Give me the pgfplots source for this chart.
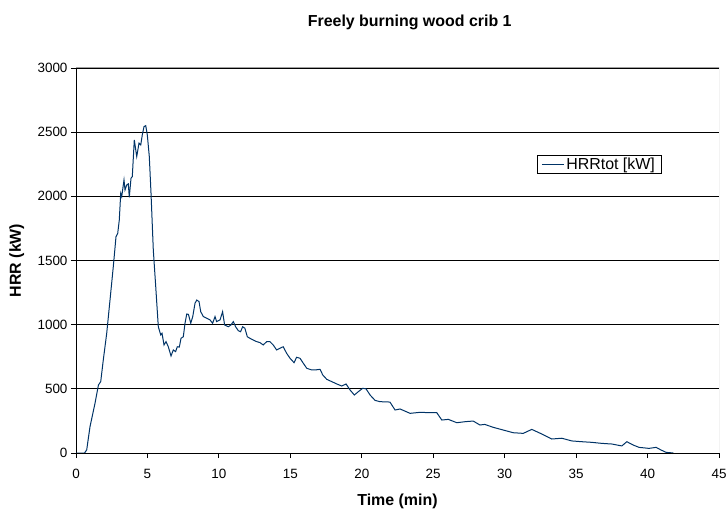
\documentclass[border=0pt]{standalone}
\usepackage{fontspec}
\setmainfont{Liberation Sans}
\usepackage{pgfplots}
\pgfplotsset{compat=1.18}
\definecolor{hrr}{RGB}{0,51,102}
\definecolor{frame}{RGB}{160,160,160}
\begin{document}
\begin{tikzpicture}
\path[use as bounding box] (0,0) rectangle (728bp,511bp);
\begin{axis}[
  at={(76bp,58bp)}, anchor=south west,
  scale only axis, width=643bp, height=385bp,
  xmin=0, xmax=45, ymin=0, ymax=3000,
  xtick={0,5,...,45}, ytick={0,500,...,3000},
  axis x line*=bottom, axis y line*=left,
  axis line style={black, line width=0.8bp, -},
  tick align=outside, major tick length=5bp,
  tick style={black, line width=0.8bp},
  ymajorgrids, grid style={black, line width=0.8bp},
  /pgf/number format/assume math mode=true,
  /pgf/number format/1000 sep={},
  ticklabel style={font=\fontsize{13.5}{16}\selectfont},
  xticklabel style={yshift=-8bp},
  title={Freely burning wood crib 1},
  title style={font=\bfseries\fontsize{16}{19}\selectfont, at={(axis description cs:0.519,1.107)}, anchor=base, yshift=-6bp},
  xlabel={Time (min)},
  xlabel style={font=\bfseries\fontsize{16}{19}\selectfont, at={(axis description cs:0.5,-0.137)}, anchor=base},
  ylabel={HRR (kW)},
  ylabel style={font=\bfseries\fontsize{16}{19}\selectfont, at={(axis description cs:-0.092,0.5)}, anchor=center},
  legend style={at={(rel axis cs:0.717,0.774)}, anchor=north west, draw=black, line width=0.6bp, font=\fontsize{16}{19}\selectfont, inner xsep=4bp, inner ysep=0.5bp, legend cell align=left},
  legend image code/.code={\draw[#1] (0bp,0bp) -- (22bp,0bp);},
]
\draw[frame, line width=1bp] (rel axis cs:0,1) -- (rel axis cs:1,1) -- (rel axis cs:1,0);
\addplot[hrr, line width=1bp] coordinates {
(0,0) (0.6,0) (0.75,25) (0.98,205) (1.33,387) (1.57,530) (1.73,556) (1.91,725)
(2.15,933) (2.38,1192) (2.61,1452) (2.80,1686) (2.92,1712) (3.03,1816) (3.13,2024)
(3.20,1998) (3.36,2128) (3.43,2050) (3.55,2089) (3.66,2097) (3.73,1993) (3.85,2141)
(3.94,2154) (4.08,2440) (4.25,2310) (4.41,2414) (4.53,2400) (4.64,2479) (4.76,2543)
(4.88,2551) (4.99,2479) (5.13,2310) (5.25,2024) (5.41,1582) (5.58,1296) (5.76,984)
(5.93,920) (6.02,933) (6.16,842) (6.30,868) (6.46,828) (6.65,756) (6.81,803)
(6.97,790) (7.09,828) (7.23,825) (7.35,894) (7.51,906) (7.63,1011) (7.75,1083)
(7.87,1080) (8.03,1011) (8.17,1063) (8.33,1167) (8.45,1192) (8.61,1180) (8.73,1101)
(8.91,1063) (9.15,1050) (9.38,1037) (9.56,1011) (9.73,1063) (9.84,1024) (10.08,1037)
(10.26,1101) (10.40,998) (10.66,984) (10.85,998) (11.01,1024) (11.17,984) (11.36,953)
(11.52,945) (11.66,984) (11.82,972) (11.99,906) (12.17,894) (12.41,880) (12.64,868)
(12.88,860) (13.10,842) (13.35,868) (13.57,868) (13.80,842) (14.04,803) (14.27,816)
(14.50,828) (14.74,777) (14.98,738) (15.26,704) (15.44,746) (15.68,738) (15.91,699)
(16.15,660) (16.50,647) (16.73,647) (17.08,652) (17.27,608) (17.55,574) (17.90,556)
(18.25,538) (18.60,522) (18.90,538) (19.18,491) (19.48,452) (19.76,478) (20.06,504)
(20.30,500) (20.58,452) (20.93,410) (21.27,400) (21.97,397) (22.33,335) (22.68,343)
(23.38,309) (24.08,317) (24.78,314) (25.25,314) (25.60,257) (26.06,262) (26.65,236)
(27.23,244) (27.80,249) (28.27,218) (28.60,223) (29.20,200) (29.90,179) (30.60,158)
(31.30,153) (31.90,184) (32.50,153) (33.30,109) (34.00,115) (34.70,94) (35.40,88)
(36.10,83) (36.80,75) (37.50,70) (38.20,55) (38.55,88) (39.00,62) (39.40,44)
(40.10,36) (40.60,44) (40.95,23) (41.30,5) (41.80,0)
};
\addlegendentry{HRRtot [kW]}
\end{axis}
\end{tikzpicture}
\end{document}
